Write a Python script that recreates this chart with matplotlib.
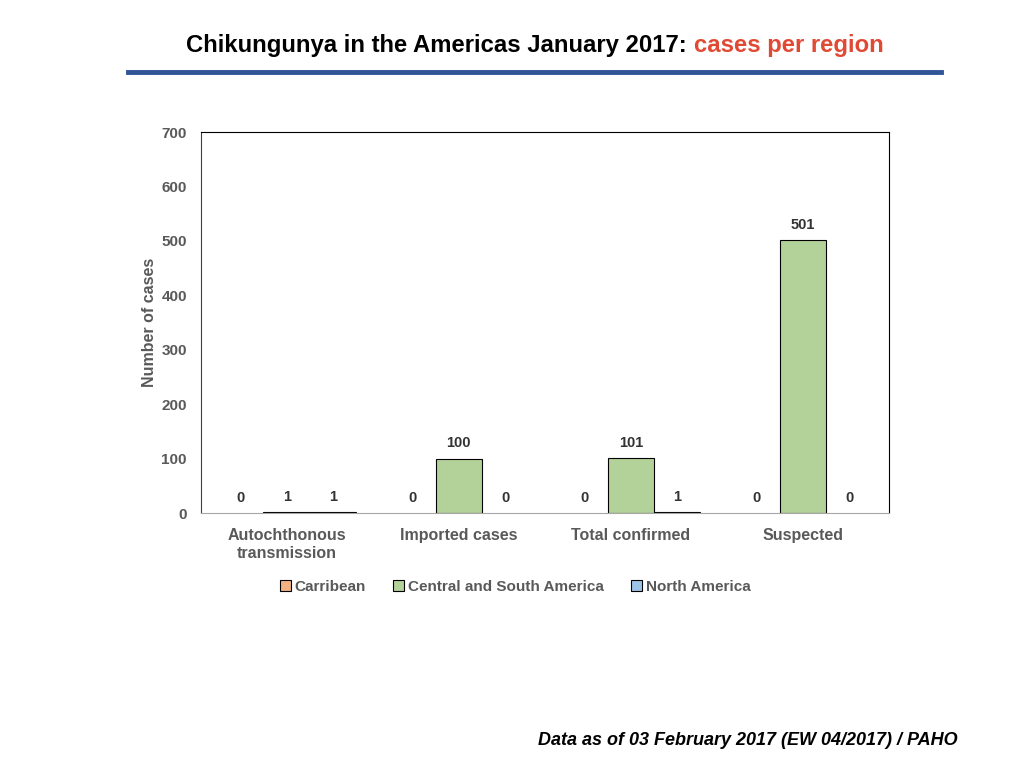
import matplotlib
matplotlib.use('Agg')
import matplotlib.pyplot as plt
from matplotlib.patches import Patch
import numpy as np

plt.rcParams['font.family'] = ['Liberation Sans', 'DejaVu Sans']

categories = ['Autochthonous\ntransmission', 'Imported cases', 'Total confirmed', 'Suspected']
carribean = [0, 0, 0, 0]
central_south = [1, 100, 101, 501]
north_america = [1, 0, 1, 0]
series_names = ['Carribean', 'Central and South America', 'North America']
colors = ['#F4B183', '#B3D29A', '#9DC3E6']

fig = plt.figure(figsize=(10.24, 7.68), dpi=100)

# title: black part then red part right after it
t1 = fig.text(0.182, 0.941, 'Chikungunya in the Americas January 2017: ', fontsize=17.2,
              fontweight='bold', color='black', ha='left', va='center')
fig.canvas.draw()
bb = t1.get_window_extent().transformed(fig.transFigure.inverted())
fig.text(bb.x1, 0.941, 'cases per region', fontsize=17.2, fontweight='bold',
         color='#E04A35', ha='left', va='center')
fig.add_artist(plt.Line2D([0.125, 0.919], [0.906, 0.906], color='#2F5597', lw=3.5))

ax = fig.add_axes([0.196, 0.332, 0.672, 0.496])
x = np.arange(len(categories))
w = 0.27
all_series = [carribean, central_south, north_america]
for i, (vals, name, c) in enumerate(zip(all_series, series_names, colors)):
    pos = x + (i - 1) * w
    bars = ax.bar(pos, vals, w, color=c, edgecolor='black', linewidth=0.8)
    for b, v in zip(bars, vals):
        if v == 0:
            b.set_linewidth(0)
    for p, v in zip(pos, vals):
        ax.text(p, v + 15, str(v), ha='center', va='bottom', fontsize=10.5,
                fontweight='bold', color='#333333')

ax.set_xlim(-0.5, 3.5)
ax.set_ylim(0, 700)
ax.set_yticks(range(0, 701, 100))
ax.set_xticks(x)
ax.set_xticklabels(categories, fontsize=11.5, fontweight='bold', color='#595959',
                   linespacing=1.2)
ax.tick_params(axis='y', labelsize=11, colors='#595959', length=0, pad=10)
ax.tick_params(axis='x', length=0, pad=11)
for lab in ax.get_yticklabels():
    lab.set_fontweight('bold')
ax.set_ylabel('Number of cases', fontsize=11.5, fontweight='bold', color='#595959', labelpad=3)
for s in ['top', 'right']:
    ax.spines[s].set_color('black')
ax.spines['left'].set_color('#404040')
ax.spines['bottom'].set_color('#A6A6A6')

handles = [Patch(facecolor=c, edgecolor='black', linewidth=0.8) for c in colors]
leg = ax.legend(handles, series_names, loc='upper center', bbox_to_anchor=(0.457, -0.14),
                ncol=3, frameon=False, handlelength=0.7, handleheight=0.7,
                handletextpad=0.25, columnspacing=1.8, prop={'size': 11, 'weight': 'bold'})
for t in leg.get_texts():
    t.set_color('#595959')

fig.text(0.935, 0.036, 'Data as of 03 February 2017 (EW 04/2017) / PAHO', fontsize=13,
         fontweight='bold', fontstyle='italic', ha='right', va='center')

plt.savefig('out.png', dpi=100)
